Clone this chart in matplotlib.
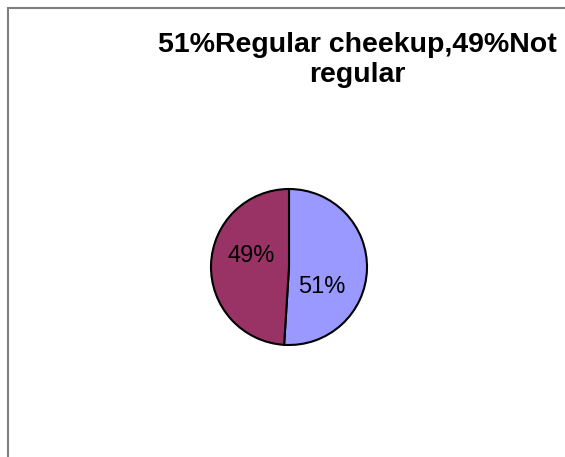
import matplotlib
matplotlib.use("Agg")
import matplotlib.pyplot as plt
from matplotlib.patches import Rectangle

# Data
categories = ["Regular cheekup", "Not regular"]
shares = [51, 49]
colors = ["#9999FF", "#993366"]
title_lines = ["51%Regular cheekup,49%Not", "regular"]

plt.rcParams["font.family"] = ["Liberation Sans", "DejaVu Sans"]

W, H = 565, 457
fig = plt.figure(figsize=(W / 100, H / 100), dpi=100)
fig.patch.set_facecolor("white")

# Chart-area frame (open to right and bottom)
frame = Rectangle((7.5 / W, -0.1), 1.2, (H - 8) / H + 0.1, transform=fig.transFigure,
                  fill=False, edgecolor="#7f7f7f", linewidth=1.5)
fig.add_artist(frame)

# Title, one line at a time
for i, line in enumerate(title_lines):
    fig.text(357.5 / W, 1 - (51.5 + 30 * i) / H, line, ha="center", va="baseline",
             fontsize=20.5, fontweight="bold")

# Pie
cx, cy, r = 289, 267, 78
ax = fig.add_axes([(cx - r) / W, (H - cy - r) / H, 2 * r / W, 2 * r / H])
wedges, texts, autotexts = ax.pie(
    shares, colors=colors, startangle=90, counterclock=False,
    autopct=lambda p: f"{p:.0f}%", pctdistance=0.5,
    wedgeprops=dict(edgecolor="black", linewidth=1.5),
    textprops=dict(fontsize=17, color="black"))
ax.set_aspect("equal")
ax.set_xlim(-1, 1)
ax.set_ylim(-1, 1)

# Label placement inside each slice
label_pos = [(33 / r, -20 / r), (-38 / r, 11 / r)]
for t, (x, y) in zip(autotexts, label_pos):
    t.set_position((x, y))
    t.set_ha("center")
    t.set_va("center")

fig.savefig("out.png", dpi=100, facecolor="white")
